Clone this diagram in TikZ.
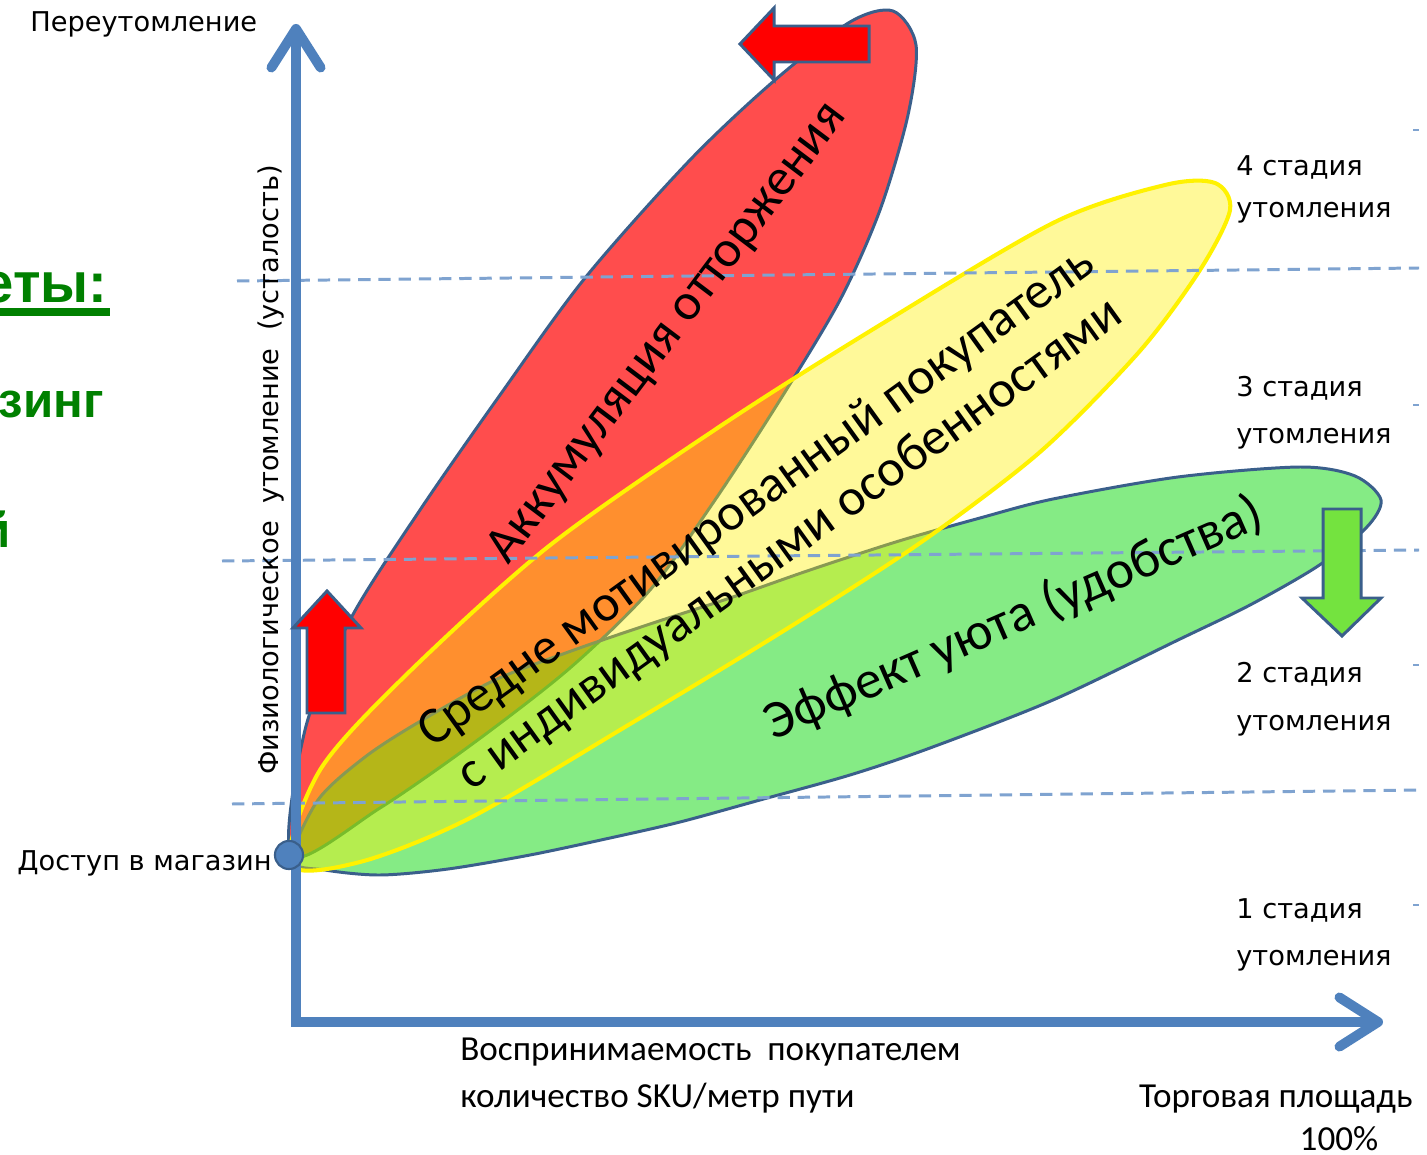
\documentclass[tikz,border=0pt]{standalone}
\usepackage{fontspec}
\setmainfont{Carlito}
\newfontfamily\lblfont{DejaVu Sans}
\newfontfamily\hdfont{Liberation Sans}
\usepackage{tikz}
\usetikzlibrary{arrows.meta}

\definecolor{axisblue}{HTML}{4F81BD}
\definecolor{rimblue}{HTML}{3A5F8B}
\definecolor{dashblue}{HTML}{7FA3D0}
\definecolor{redzone}{HTML}{FF4D4D}
\definecolor{greenzone}{RGB}{0,215,0}
\definecolor{arrowgreen}{HTML}{74E33F}
\definecolor{slidegreen}{HTML}{008000}

\begin{document}
\begin{tikzpicture}[x=0.02cm, y=-0.02cm,
	axis/.style={draw=axisblue, line width=5.6pt, line join=miter},
	barb/.tip={Straight Barb[length=22pt, width=28pt, line cap=round, line join=round]},
	guide/.style={draw=dashblue, line width=1.7pt, dash pattern=on 7pt off 4.5pt},
	zone/.style={draw=rimblue, line width=1.7pt},
	bigarrow/.style={draw=rimblue, line width=1.7pt, line join=miter},
	lbl/.style={font=\lblfont\fontsize{15.5}{18}\selectfont, inner sep=0pt},
	axlbl/.style={font=\fontsize{20}{24}\selectfont, inner sep=0pt},
	zonetext/.style={font=\fontsize{29.5}{33}\selectfont, inner sep=0pt, align=center},
	slide/.style={font=\hdfont\bfseries\fontsize{28}{34}\selectfont, text=slidegreen, inner sep=0pt}]
	
	\useasboundingbox (0,0) rectangle (1427,1155);
	\fill[white] (0,0) rectangle (1427,1155);
	
	% zones
	\draw[zone, fill=redzone] plot[smooth cycle] coordinates {
		(292,856) (305,730) (350,620) (420,510) (500,395) (585,278) (690,160)
		(775,80) (850,22) (893,11) (916,45) (908,115) (880,210) (840,300)
		(780,400) (715,500) (650,590) (570,668) (475,742) (380,808)};
	\draw[zone, fill=greenzone, fill opacity=0.48] plot[smooth cycle] coordinates {
		(292,860) (318,800) (365,757) (419,722) (495,680) (574,650) (650,624)
		(730,598) (810,570) (899,541) (980,518) (1053,499) (1178,477) (1300,467)
		(1355,476) (1381,500) (1366,528) (1318,566) (1250,605) (1178,640)
		(1053,700) (930,748) (850,775) (760,800) (680,822) (610,838) (530,855)
		(448,869) (380,875) (325,870)};
	\draw[draw=yellow, line width=2.3pt, fill=yellow, fill opacity=0.4] plot[smooth cycle] coordinates {
		(290,864) (320,770) (406,675) (549,546) (722,425) (880,325) (1055,222)
		(1165,185) (1215,183) (1230,210) (1200,270) (1139,352) (1040,452)
		(920,543) (785,630) (630,724) (470,818) (360,862)};
	
	% stage borders
	\coordinate (g1w) at (237,281);
	\coordinate (g1e) at (1419,268);
	\coordinate (g2w) at (222,561);
	\coordinate (g2e) at (1419,550);
	\coordinate (g3w) at (232,804);
	\coordinate (g3e) at (1419,790);
	\draw[guide] (g1w) -- (g1e);
	\draw[guide] (g2w) -- (g2e);
	\draw[guide] (g3w) -- (g3e);
	\foreach \y in {130,405,665,905}
		\draw[guide] (1413,\y) -- (1419,\y);
	
	% axes
	\coordinate (O) at (296,1022);
	\coordinate (ytip) at (296,24);
	\coordinate (xtip) at (1383,1022);
	\draw[axis, barb-barb] (ytip) -- (O) -- (xtip);
	
	% block arrows
	\draw[bigarrow, fill=red] (307,713) -- (307,628) -- (293,628) -- (327,591) -- (361,628) -- (345,628) -- (345,713) -- cycle;
	\draw[bigarrow, fill=red] (869,26) -- (774,26) -- (774,8) -- (740,44) -- (774,80) -- (774,62) -- (869,62) -- cycle;
	\draw[bigarrow, fill=arrowgreen] (1323,509) -- (1361,509) -- (1361,598) -- (1381,598) -- (1342,636) -- (1302,598) -- (1323,598) -- cycle;
	
	\node[circle, fill=axisblue, draw=rimblue, line width=1.2pt, minimum size=16pt, inner sep=0pt] (entry) at (289,855) {};
	
	% zone texts
	\node[zonetext, rotate=53, anchor=base] (reject) at (678,341) {Аккумуляция отторжения};
	\node[zonetext, rotate=35.8, anchor=center] (motive) at (774,522) {Средне мотивированный покупатель\\с индивидуальными особенностями};
	\node[zonetext, font=\fontsize{30.5}{34}\selectfont, rotate=23.6, anchor=base] (comfort) at (1020,633) {Эффект уюта (удобства)};
	
	% labels
	\node[lbl, anchor=base west] (over) at (30,32) {Переутомление};
	\node[lbl, rotate=90, anchor=base] (fatigue) at (278,470) {Физиологическое\ \ утомление\ \ (усталость)};
	\node[lbl, anchor=base east] (entrylbl) at (272,870) {Доступ в магазин};
	\foreach \n/\ya/\yb in {4/176/218, 3/397/443, 2/682/730, 1/918/965} {
		\node[lbl, anchor=base west] (st\n) at (1236,\ya) {\n\ стадия};
		\node[lbl, anchor=base west] (st\n u) at (1236,\yb) {утомления};
	}
	\node[axlbl, anchor=base west] (percept) at (460,1060) {Воспринимаемость\ \ покупателем};
	\node[axlbl, anchor=base west] (sku) at (460,1107) {количество SKU/метр пути};
	\node[axlbl, anchor=base east] (area) at (1413,1107) {Торговая площадь};
	\node[axlbl, anchor=base] (full) at (1339,1150) {100\%};
	
	% slide fragments
	\node[slide, font=\hdfont\bfseries\fontsize{32}{38}\selectfont, anchor=base east] (frag1) at (108,303) {еты:};
	\draw[slidegreen, line width=4pt] (0,312) -- (110,312);
	\node[slide, anchor=base east] (frag2) at (104,418) {зинг};
	\node[slide, anchor=base east] (frag3) at (11,547) {й};
	
\end{tikzpicture}
\end{document}
